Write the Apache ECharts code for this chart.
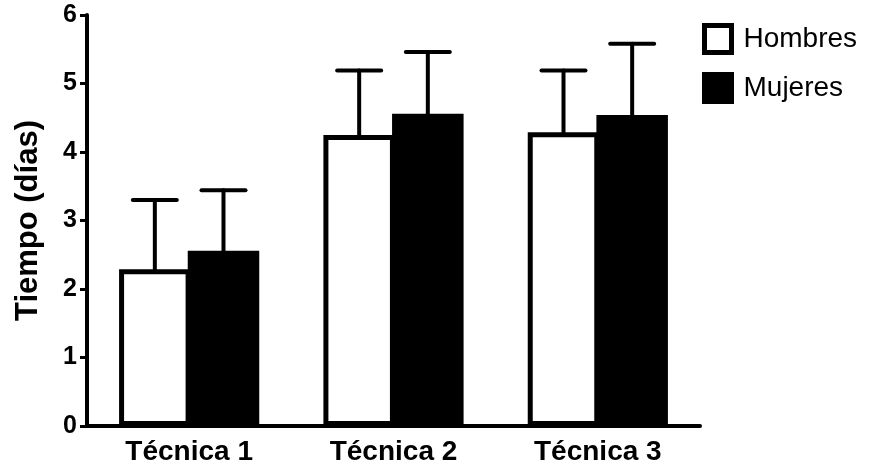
<!DOCTYPE html>
<html>
<head>
<meta charset="utf-8">
<script src="https://cdn.jsdelivr.net/npm/echarts@6/dist/echarts.min.js"></script>
<style>
html,body{margin:0;padding:0;background:#fff;}
#chart{width:869px;height:471px;}
</style>
</head>
<body>
<div id="chart"></div>
<script>
const categories = ['Técnica 1', 'Técnica 2', 'Técnica 3'];
const hombres = [2.29, 4.25, 4.29];
const hombresSD = [1.01, 0.94, 0.90];
const mujeres = [2.56, 4.56, 4.54];
const mujeresSD = [0.88, 0.90, 1.04];
const yTicks = [0, 1, 2, 3, 4, 5, 6];

const FONT = "'Liberation Sans', Arial, Helvetica, sans-serif";
const BAR_FRAC = 0.35;
const GAP_FRAC = -0.04;

const errData = [];
categories.forEach((c, i) => {
  errData.push([i, hombres[i], hombresSD[i], -1]);
  errData.push([i, mujeres[i], mujeresSD[i], 1]);
});

function renderErr(params, api) {
  const idx = api.value(0);
  const mean = api.value(1);
  const sd = api.value(2);
  const side = api.value(3);
  const band = api.size([1, 0])[0];
  const bw = band * BAR_FRAC;
  const base = api.coord([idx, mean]);
  const top = api.coord([idx, mean + sd]);
  const x = base[0] + side * bw * (1 + GAP_FRAC) / 2;
  const capHalf = 22;
  const style = { stroke: '#000', lineWidth: 4, lineCap: 'round' };
  return {
    type: 'group',
    children: [
      { type: 'line', shape: { x1: x, y1: base[1], x2: x, y2: top[1] }, style: style },
      { type: 'line', shape: { x1: x - capHalf, y1: top[1], x2: x + capHalf, y2: top[1] }, style: style }
    ]
  };
}

const chart = echarts.init(document.getElementById('chart'), null, { renderer: 'canvas' });
chart.setOption({
  animation: false,
  backgroundColor: '#fff',
  grid: { left: 87, right: 169, top: 15, bottom: 45, containLabel: false },
  legend: {
    orient: 'vertical',
    left: 697,
    top: 18,
    itemWidth: 27,
    itemHeight: 27,
    itemGap: 17,
    icon: 'rect',
    textStyle: { fontFamily: FONT, fontSize: 28, color: '#000', padding: [0, 0, 0, 7] },
    data: [
      { name: 'Hombres', itemStyle: { color: '#fff', borderColor: '#000', borderWidth: 5 } },
      { name: 'Mujeres', itemStyle: { color: '#000', borderColor: '#000', borderWidth: 5 } }
    ]
  },
  xAxis: {
    type: 'category',
    data: categories,
    axisLine: { show: true, lineStyle: { color: '#000', width: 4 } },
    axisTick: { show: false },
    axisLabel: { color: '#000', fontFamily: FONT, fontWeight: 'bold', fontSize: 28, margin: 12 },
    splitLine: { show: false }
  },
  yAxis: {
    type: 'value',
    min: 0, max: 6, interval: 1,
    name: 'Tiempo (días)',
    nameLocation: 'middle',
    nameGap: 43,
    nameRotate: 90,
    nameTextStyle: { color: '#000', fontFamily: FONT, fontWeight: 'bold', fontSize: 31 },
    axisLine: { show: true, lineStyle: { color: '#000', width: 4 } },
    axisTick: { show: true, length: 7, lineStyle: { color: '#000', width: 3 } },
    axisLabel: {
      color: '#000', fontFamily: FONT, fontWeight: 'bold', fontSize: 25, margin: 10,
      formatter: v => yTicks.includes(v) ? String(v) : ''
    },
    splitLine: { show: false }
  },
  series: [
    {
      name: 'Hombres', type: 'bar', data: hombres,
      barWidth: (BAR_FRAC * 100) + '%', barGap: (GAP_FRAC * 100) + '%',
      itemStyle: { color: '#fff', borderColor: '#000', borderWidth: 5 },
      z: 2
    },
    {
      name: 'Mujeres', type: 'bar', data: mujeres,
      barWidth: (BAR_FRAC * 100) + '%', barGap: (GAP_FRAC * 100) + '%',
      itemStyle: { color: '#000', borderColor: '#000', borderWidth: 5 },
      z: 3
    },
    {
      type: 'custom', name: 'err', data: errData,
      renderItem: renderErr, z: 1, silent: true,
      encode: { x: 0, y: 1 }
    }
  ]
});
</script>
</body>
</html>
